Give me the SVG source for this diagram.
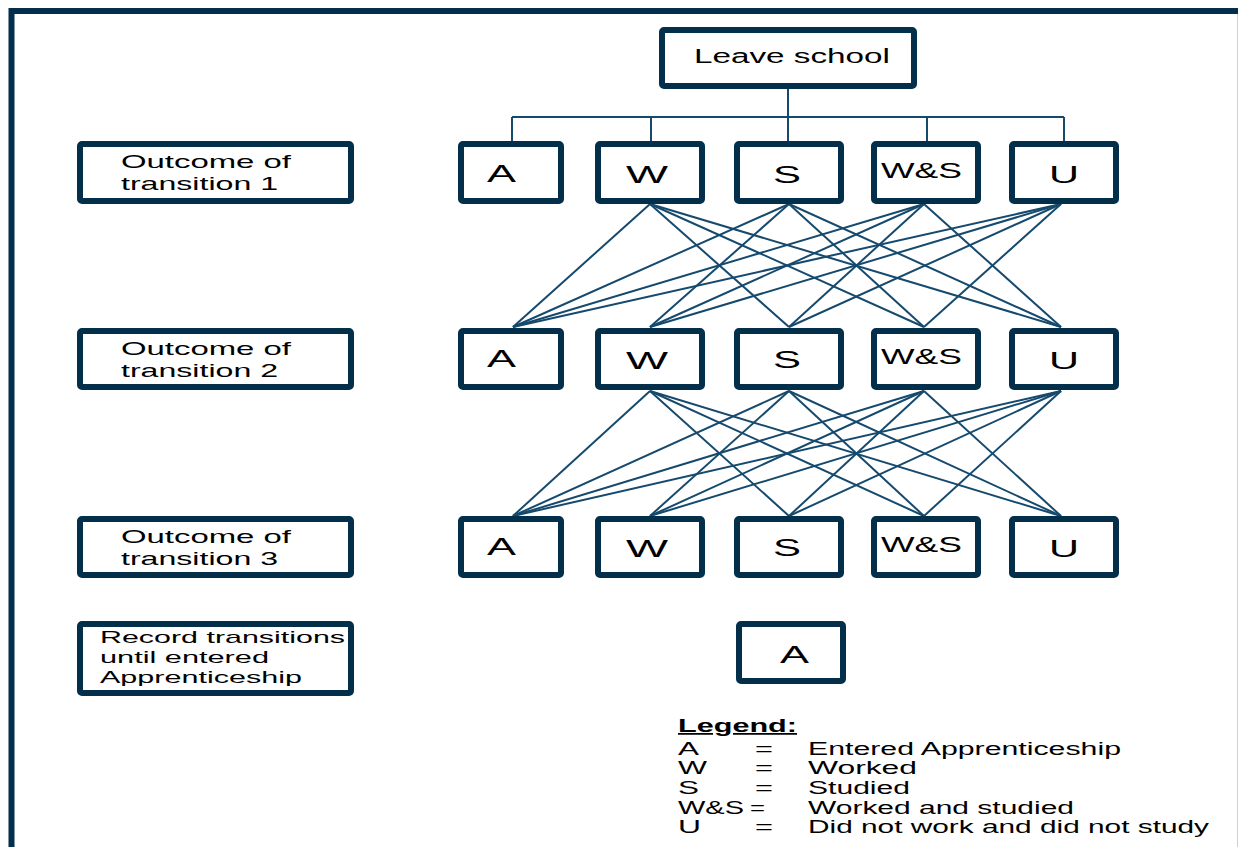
<svg xmlns="http://www.w3.org/2000/svg" width="1238" height="847" viewBox="0 0 1238 847">
<style>
.box{fill:#ffffff;stroke:#032f4b;stroke-width:6;rx:2;ry:2}
.frame{fill:none;stroke:#032f4b;stroke-width:6}
.con{stroke:#154a6e;stroke-width:2;fill:none}
.t{font-family:"Liberation Sans",Arial,sans-serif;fill:#000000}
.lbl{font-size:18.5px}
.big{font-size:24px}
.mid{font-size:22px}
.leg{font-size:17.5px}
</style>
<rect x="0" y="0" width="1238" height="847" fill="#ffffff"/>
<path class="frame" d="M11.5,847 V11 H1238"/>
<line x1="1237.5" y1="14" x2="1237.5" y2="847" stroke="#d0d0d0" stroke-width="1"/>

<g id="connectors">
  <path class="con" d="M788,89 V141 M512,117 H1064 M512,117 V141 M651,117 V141 M927,117 V141 M1064,117 V141"/>
  <g id="t1-t2">
    <line class="con" x1="650" y1="204" x2="513" y2="327"/>
    <line class="con" x1="650" y1="204" x2="789" y2="327"/>
    <line class="con" x1="650" y1="204" x2="924" y2="327"/>
    <line class="con" x1="650" y1="204" x2="1061" y2="327"/>
    <line class="con" x1="789" y1="204" x2="513" y2="327"/>
    <line class="con" x1="789" y1="204" x2="650" y2="327"/>
    <line class="con" x1="789" y1="204" x2="924" y2="327"/>
    <line class="con" x1="789" y1="204" x2="1061" y2="327"/>
    <line class="con" x1="924" y1="204" x2="513" y2="327"/>
    <line class="con" x1="924" y1="204" x2="650" y2="327"/>
    <line class="con" x1="924" y1="204" x2="789" y2="327"/>
    <line class="con" x1="924" y1="204" x2="1061" y2="327"/>
    <line class="con" x1="1061" y1="204" x2="513" y2="327"/>
    <line class="con" x1="1061" y1="204" x2="650" y2="327"/>
    <line class="con" x1="1061" y1="204" x2="789" y2="327"/>
    <line class="con" x1="1061" y1="204" x2="924" y2="327"/>
  </g>
  <g id="t2-t3">
    <line class="con" x1="650" y1="391" x2="513" y2="516"/>
    <line class="con" x1="650" y1="391" x2="789" y2="516"/>
    <line class="con" x1="650" y1="391" x2="924" y2="516"/>
    <line class="con" x1="650" y1="391" x2="1061" y2="516"/>
    <line class="con" x1="789" y1="391" x2="513" y2="516"/>
    <line class="con" x1="789" y1="391" x2="650" y2="516"/>
    <line class="con" x1="789" y1="391" x2="924" y2="516"/>
    <line class="con" x1="789" y1="391" x2="1061" y2="516"/>
    <line class="con" x1="924" y1="391" x2="513" y2="516"/>
    <line class="con" x1="924" y1="391" x2="650" y2="516"/>
    <line class="con" x1="924" y1="391" x2="789" y2="516"/>
    <line class="con" x1="924" y1="391" x2="1061" y2="516"/>
    <line class="con" x1="1061" y1="391" x2="513" y2="516"/>
    <line class="con" x1="1061" y1="391" x2="650" y2="516"/>
    <line class="con" x1="1061" y1="391" x2="789" y2="516"/>
    <line class="con" x1="1061" y1="391" x2="924" y2="516"/>
  </g>
</g>

<g id="leave-school">
  <rect class="box" x="662" y="30" width="252" height="56"/>
  <text class="t" x="694" y="63" font-size="20" textLength="196" lengthAdjust="spacingAndGlyphs">Leave school</text>
</g>

<g id="label-t1">
  <rect class="box" x="80" y="144" width="271" height="57"/>
  <text class="t lbl" x="121" y="168" textLength="170" lengthAdjust="spacingAndGlyphs">Outcome of</text>
  <text class="t lbl" x="121" y="190" textLength="157" lengthAdjust="spacingAndGlyphs">transition 1</text>
</g>
<g id="label-t2">
  <rect class="box" x="80" y="331" width="271" height="56"/>
  <text class="t lbl" x="121" y="355" textLength="170" lengthAdjust="spacingAndGlyphs">Outcome of</text>
  <text class="t lbl" x="121" y="377" textLength="157" lengthAdjust="spacingAndGlyphs">transition 2</text>
</g>
<g id="label-t3">
  <rect class="box" x="80" y="519" width="271" height="56"/>
  <text class="t lbl" x="121" y="543" textLength="170" lengthAdjust="spacingAndGlyphs">Outcome of</text>
  <text class="t lbl" x="121" y="565" textLength="157" lengthAdjust="spacingAndGlyphs">transition 3</text>
</g>
<g id="label-record">
  <rect class="box" x="80" y="624" width="271" height="69"/>
  <text class="t" x="100" y="643" font-size="17" textLength="245" lengthAdjust="spacingAndGlyphs">Record transitions</text>
  <text class="t" x="100" y="663" font-size="17" textLength="169" lengthAdjust="spacingAndGlyphs">until entered</text>
  <text class="t" x="100" y="683" font-size="17" textLength="202" lengthAdjust="spacingAndGlyphs">Apprenticeship</text>
</g>

<g id="r1-A"><rect class="box" x="461" y="144" width="100" height="57"/><text class="t big" x="487" y="182" textLength="29" lengthAdjust="spacingAndGlyphs">A</text></g>
<g id="r1-W"><rect class="box" x="598" y="144" width="104" height="57"/><text class="t big" x="626" y="183" textLength="42" lengthAdjust="spacingAndGlyphs">W</text></g>
<g id="r1-S"><rect class="box" x="737" y="144" width="104" height="57"/><text class="t big" x="773" y="183" textLength="28" lengthAdjust="spacingAndGlyphs">S</text></g>
<g id="r1-WS"><rect class="box" x="874" y="144" width="104" height="57"/><text class="t mid" x="881" y="178" textLength="81" lengthAdjust="spacingAndGlyphs">W&amp;S</text></g>
<g id="r1-U"><rect class="box" x="1012" y="144" width="104" height="57"/><text class="t big" x="1049" y="183" textLength="30" lengthAdjust="spacingAndGlyphs">U</text></g>

<g id="r2-A"><rect class="box" x="461" y="331" width="100" height="56"/><text class="t big" x="487" y="367" textLength="29" lengthAdjust="spacingAndGlyphs">A</text></g>
<g id="r2-W"><rect class="box" x="598" y="331" width="104" height="56"/><text class="t big" x="626" y="369" textLength="42" lengthAdjust="spacingAndGlyphs">W</text></g>
<g id="r2-S"><rect class="box" x="737" y="331" width="104" height="56"/><text class="t big" x="773" y="368" textLength="28" lengthAdjust="spacingAndGlyphs">S</text></g>
<g id="r2-WS"><rect class="box" x="874" y="331" width="104" height="56"/><text class="t mid" x="881" y="364" textLength="81" lengthAdjust="spacingAndGlyphs">W&amp;S</text></g>
<g id="r2-U"><rect class="box" x="1012" y="331" width="104" height="56"/><text class="t big" x="1049" y="369" textLength="30" lengthAdjust="spacingAndGlyphs">U</text></g>

<g id="r3-A"><rect class="box" x="461" y="519" width="100" height="56"/><text class="t big" x="487" y="555" textLength="29" lengthAdjust="spacingAndGlyphs">A</text></g>
<g id="r3-W"><rect class="box" x="598" y="519" width="104" height="56"/><text class="t big" x="626" y="557" textLength="42" lengthAdjust="spacingAndGlyphs">W</text></g>
<g id="r3-S"><rect class="box" x="737" y="519" width="104" height="56"/><text class="t big" x="773" y="556" textLength="28" lengthAdjust="spacingAndGlyphs">S</text></g>
<g id="r3-WS"><rect class="box" x="874" y="519" width="104" height="56"/><text class="t mid" x="881" y="552" textLength="81" lengthAdjust="spacingAndGlyphs">W&amp;S</text></g>
<g id="r3-U"><rect class="box" x="1012" y="519" width="104" height="56"/><text class="t big" x="1049" y="557" textLength="30" lengthAdjust="spacingAndGlyphs">U</text></g>

<g id="final-A"><rect class="box" x="739" y="624" width="104" height="57"/><text class="t big" x="780" y="663" textLength="29" lengthAdjust="spacingAndGlyphs">A</text></g>

<g id="legend">
  <text class="t leg" x="678" y="732" font-weight="bold" text-decoration="underline" textLength="119" lengthAdjust="spacingAndGlyphs">Legend:</text>
  <text class="t leg" x="678" y="755" textLength="21" lengthAdjust="spacingAndGlyphs">A</text>
  <text class="t leg" x="755" y="755" textLength="18" lengthAdjust="spacingAndGlyphs">=</text>
  <text class="t leg" x="808" y="755" textLength="313" lengthAdjust="spacingAndGlyphs">Entered Apprenticeship</text>
  <text class="t leg" x="678" y="774" textLength="29" lengthAdjust="spacingAndGlyphs">W</text>
  <text class="t leg" x="755" y="774" textLength="18" lengthAdjust="spacingAndGlyphs">=</text>
  <text class="t leg" x="808" y="774" textLength="109" lengthAdjust="spacingAndGlyphs">Worked</text>
  <text class="t leg" x="678" y="794" textLength="21" lengthAdjust="spacingAndGlyphs">S</text>
  <text class="t leg" x="755" y="794" textLength="18" lengthAdjust="spacingAndGlyphs">=</text>
  <text class="t leg" x="808" y="794" textLength="102" lengthAdjust="spacingAndGlyphs">Studied</text>
  <text class="t leg" x="678" y="814" textLength="66" lengthAdjust="spacingAndGlyphs">W&amp;S</text>
  <text class="t leg" x="750" y="814" textLength="15" lengthAdjust="spacingAndGlyphs">=</text>
  <text class="t leg" x="808" y="814" textLength="266" lengthAdjust="spacingAndGlyphs">Worked and studied</text>
  <text class="t leg" x="678" y="833" textLength="23" lengthAdjust="spacingAndGlyphs">U</text>
  <text class="t leg" x="755" y="833" textLength="18" lengthAdjust="spacingAndGlyphs">=</text>
  <text class="t leg" x="808" y="833" textLength="401" lengthAdjust="spacingAndGlyphs">Did not work and did not study</text>
</g>
</svg>
